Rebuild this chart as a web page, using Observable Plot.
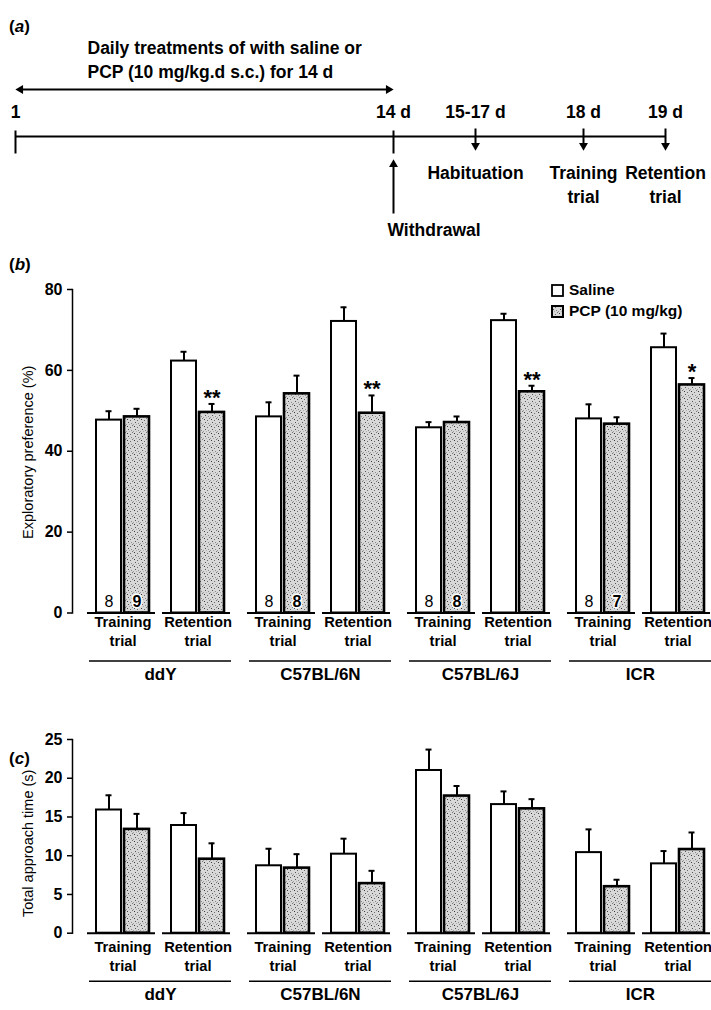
<!DOCTYPE html>
<html>
<head>
<meta charset="utf-8">
<script src="https://cdn.jsdelivr.net/npm/d3@7"></script>
<script src="https://cdn.jsdelivr.net/npm/@observablehq/plot@0.6"></script>
<style>
  body { margin: 0; background: #fff; }
  #root { position: relative; width: 711px; height: 1010px; overflow: hidden; background: #fff;
          font-family: "Liberation Sans", Arial, sans-serif; color: #000; }
  .panel { position: absolute; left: 0; }
  .plabel { position: absolute; left: 9px; font-size: 17px; line-height: 18px; font-weight: bold; }
  .legend { position: absolute; left: 551px; font-size: 15.5px; font-weight: bold; }
  .legend .row { position: absolute; left: 0; display: flex; align-items: center; white-space: nowrap; height: 14px; }
  .legend svg { margin-right: 5px; }
</style>
</head>
<body>
<svg width="0" height="0" style="position:absolute">
  <defs>
    <pattern id="stipple" width="7" height="7" patternUnits="userSpaceOnUse">
      <rect width="7" height="7" fill="#d8d8d8"/>
      <rect x="1" y="1" width="1" height="1" fill="#3a3a3a"/>
      <rect x="4" y="2" width="1" height="1" fill="#6a6a6a"/>
      <rect x="2" y="4" width="1" height="1" fill="#555"/>
      <rect x="5" y="5" width="1" height="1" fill="#8a8a8a"/>
      <rect x="6" y="0" width="1" height="1" fill="#777"/>
      <rect x="0" y="6" width="1" height="1" fill="#999"/>
      <rect x="3" y="6" width="1" height="1" fill="#b0b0b0"/>
    </pattern>
  </defs>
</svg>
<div id="root">
  <div class="plabel" style="top:18px">(<i>a</i>)</div>
  <div class="plabel" style="top:256px">(<i>b</i>)</div>
  <div class="plabel" style="top:750px">(<i>c</i>)</div>
  <div id="panelA" class="panel" style="top:0px"></div>
  <div id="panelB" class="panel" style="top:250px"></div>
  <div id="panelC" class="panel" style="top:700px"></div>
  <div class="legend" style="top:283px">
    <div class="row" style="top:0px"><svg width="13" height="13"><rect x="1" y="1" width="11" height="11" fill="#fff" stroke="#000" stroke-width="1.8"/></svg><span>Saline</span></div>
    <div class="row" style="top:21px"><svg width="13" height="13"><rect x="1" y="1" width="11" height="11" fill="url(#stipple)" stroke="#000" stroke-width="2"/></svg><span>PCP (10 mg/kg)</span></div>
  </div>
</div>
<script>
// ---------- Panel (a): timeline ----------
const days = [1, 14, 16, 18, 19];
const dayLabels = ["1", "14 d", "15-17 d", "18 d", "19 d"];
const tickDays = [1, 14];
const eventDays = [16, 18, 19];
const eventLabels = ["Habituation", "Training\ntrial", "Retention\ntrial"];
const treatmentSpan = [1, 14];
const treatmentText = ["Daily treatments of with saline or\nPCP (10 mg/kg.d s.c.) for 14 d"];
const withdrawalDay = [14];
const withdrawalText = ["Withdrawal"];

// ---------- Panels (b) and (c) ----------
const strains = ["ddY", "C57BL/6N", "C57BL/6J", "ICR"];
const trials = ["Training", "Retention"];
// order: ddY Training, ddY Retention, C57BL/6N Training, ... ICR Retention
const prefSaline    = [47.7, 62.3, 48.5, 72.1, 45.8, 72.3, 48.0, 65.6];
const prefSalineSem = [2.2, 2.3, 3.6, 3.5, 1.4, 1.7, 3.6, 3.5];
const prefPcp       = [48.5, 49.6, 54.2, 49.4, 47.1, 54.7, 46.7, 56.4];
const prefPcpSem    = [2.0, 2.1, 4.5, 4.4, 1.5, 1.5, 1.7, 1.7];
const prefSig       = ["", "**", "", "**", "", "**", "", "*"];
const nSaline = [8, 8, 8, 8];
const nPcp = [9, 8, 8, 7];

const timeSaline    = [15.9, 13.9, 8.7, 10.2, 21.0, 16.6, 10.4, 8.95];
const timeSalineSem = [1.9, 1.6, 2.2, 2.0, 2.7, 1.7, 3.0, 1.65];
const timePcp       = [13.4, 9.55, 8.4, 6.4, 17.7, 16.05, 6.0, 10.8];
const timePcpSem    = [2.0, 2.05, 1.8, 1.65, 1.3, 1.25, 0.9, 2.2];

const FONT = "'Liberation Sans', Arial, sans-serif";

// ---------- Build panel (a) ----------
const dayRows = days.map((d, i) => ({day: d, label: dayLabels[i]}));
const eventRows = eventDays.map((d, i) => ({day: d, label: eventLabels[i]}));

const plotA = Plot.plot({
  width: 711, height: 250, margin: 0,
  style: {fontFamily: FONT, fontSize: "17.5px", fontWeight: "bold", color: "#000", background: "transparent", overflow: "visible"},
  x: {type: "linear", domain: days, range: [15, 393, 475, 583, 665], axis: null},
  y: {type: "linear", domain: [-114, 136], axis: null},
  marks: [
    // treatment description
    Plot.text(treatmentText, {x: treatmentSpan[0], y: 78, dx: 72, textAnchor: "start", lineHeight: 1.37}),
    // double-headed arrow spanning the treatment period
    Plot.ruleY([47], {x1: treatmentSpan[0], x2: treatmentSpan[1], strokeWidth: 2, insetLeft: 3, insetRight: 3}),
    Plot.dot([treatmentSpan[0]], {x: d => d, y: 47, symbol: "triangle", r: 3.3, rotate: -90, fill: "#000", stroke: null, dx: 5}),
    Plot.dot([treatmentSpan[1]], {x: d => d, y: 47, symbol: "triangle", r: 3.3, rotate: 90, fill: "#000", stroke: null, dx: -5}),
    // day labels
    Plot.text(dayRows, {x: "day", y: 24, text: "label"}),
    // timeline
    Plot.ruleY([0], {x1: days[0], x2: days[days.length - 1], strokeWidth: 2}),
    Plot.link(tickDays, {x1: d => d, x2: d => d, y1: 6, y2: -17, strokeWidth: 2}),
    // event arrows (down)
    Plot.link(eventDays, {x1: d => d, x2: d => d, y1: 8, y2: -9, strokeWidth: 2}),
    Plot.dot(eventDays, {x: d => d, y: -14, symbol: "triangle", r: 3.3, rotate: 180, fill: "#000", stroke: null, dy: -5}),
    Plot.text(eventRows, {x: "day", y: -25.7, text: "label", lineAnchor: "top", lineHeight: 1.37}),
    // withdrawal arrow (up)
    Plot.link(withdrawalDay, {x1: d => d, x2: d => d, y1: -77, y2: -27, strokeWidth: 2}),
    Plot.dot(withdrawalDay, {x: d => d, y: -23, symbol: "triangle", r: 3.3, rotate: 0, fill: "#000", stroke: null, dy: 5}),
    Plot.text(withdrawalText, {x: withdrawalDay[0], y: -86.7, text: d => d, lineAnchor: "top", textAnchor: "start", dx: -6})
  ]
});
document.getElementById("panelA").appendChild(plotA);

// ---------- Build bar panels ----------
function rowsOf(sal, salSem, pcp, pcpSem, sig) {
  return sal.map((v, i) => ({
    strain: strains[Math.floor(i / 2)],
    trial: trials[i % 2],
    saline: v, salineTop: v + salSem[i],
    pcp: pcp[i], pcpTop: pcp[i] + pcpSem[i],
    sig: sig ? sig[i] : ""
  }));
}

function barPanel({rows, yDomain, yTicks, yLabel, yLabelDy, height, marginBottom, labelDy, extra}) {
  return Plot.plot({
    width: 711, height, marginTop: 39, marginBottom, marginLeft: 89, marginRight: 0,
    style: {fontFamily: FONT, fontSize: "14.7px", fontWeight: "bold", color: "#000", background: "transparent", overflow: "visible"},
    fx: {domain: strains, paddingInner: 0.1125, paddingOuter: 0, axis: null},
    x: {domain: trials, paddingInner: 0.2933, paddingOuter: 0.0933, axis: null},
    y: {domain: yDomain},
    marks: [
      // y axis
      Plot.frame({anchor: "left", facetAnchor: "left", dx: -17, strokeWidth: 1.5}),
      Plot.axisY({ticks: yTicks, tickSize: 5, tickPadding: 5, dx: -17, label: null, fontSize: 16, strokeWidth: 1.5}),
      Plot.text([yLabel], {frameAnchor: "left", textAnchor: "middle", rotate: -90, dx: -61, dy: yLabelDy, facetAnchor: "left", fontWeight: "normal", fontSize: 14.5}),
      // baseline under each pair
      Plot.tickY(rows, {fx: "strain", x: "trial", y: 0, insetLeft: -9, insetRight: -6, strokeWidth: 2}),
      // bars
      Plot.barY(rows, {fx: "strain", x: "trial", y: "saline", insetRight: 28, fill: "#fff", stroke: "#000", strokeWidth: 2}),
      Plot.barY(rows, {fx: "strain", x: "trial", y: "pcp", insetLeft: 28, fill: "url(#stipple)", stroke: "#000", strokeWidth: 2.6}),
      // error bars
      Plot.ruleX(rows, {fx: "strain", x: "trial", y1: "saline", y2: "salineTop", dx: -14, strokeWidth: 2}),
      Plot.tickY(rows, {fx: "strain", x: "trial", y: "salineTop", insetLeft: 9.5, insetRight: 37.5, strokeWidth: 2}),
      Plot.ruleX(rows, {fx: "strain", x: "trial", y1: "pcp", y2: "pcpTop", dx: 14, strokeWidth: 2}),
      Plot.tickY(rows, {fx: "strain", x: "trial", y: "pcpTop", insetLeft: 37.5, insetRight: 9.5, strokeWidth: 2}),
      // category labels
      Plot.text(rows, {fx: "strain", x: "trial", y: 0, text: d => `${d.trial}\ntrial`, lineAnchor: "top", dy: labelDy, lineHeight: 1.29}),
      Plot.ruleY([0], {dy: 48, strokeWidth: 1.5}),
      Plot.text(strains, {fx: d => d, frameAnchor: "bottom", text: d => d, dy: 66.5, fontSize: 17}),
      ...(extra || [])
    ]
  });
}

const prefRows = rowsOf(prefSaline, prefSalineSem, prefPcp, prefPcpSem, prefSig);
const nRows = strains.map((s, i) => ({strain: s, trial: trials[0], nS: nSaline[i], nP: nPcp[i]}));

const plotB = barPanel({
  rows: prefRows, yDomain: [0, 80], yTicks: [0, 20, 40, 60, 80],
  yLabel: "Exploratory preference (%)", yLabelDy: 1, height: 440, marginBottom: 77.5, labelDy: 1,
  extra: [
    Plot.text(nRows, {fx: "strain", x: "trial", y: 0, text: "nS", dx: -14, dy: -11, fontSize: 16, fontWeight: "normal"}),
    Plot.text(nRows, {fx: "strain", x: "trial", y: 0, text: "nP", dx: 14, dy: -11, fontSize: 16, fontWeight: "bold", fill: "#000", stroke: "#fff", strokeWidth: 3}),
    Plot.text(prefRows, {fx: "strain", x: "trial", y: "pcpTop", text: "sig", dx: 14, dy: -6, fontSize: 22, fontWeight: "bold"})
  ]
});
document.getElementById("panelB").appendChild(plotB);

const timeRows = rowsOf(timeSaline, timeSalineSem, timePcp, timePcpSem, null);
const plotC = barPanel({
  rows: timeRows, yDomain: [0, 25], yTicks: [0, 5, 10, 15, 20, 25],
  yLabel: "Total approach time (s)", yLabelDy: 7, height: 310, marginBottom: 77.3, labelDy: 5,
  extra: []
});
document.getElementById("panelC").appendChild(plotC);
</script>
</body>
</html>
